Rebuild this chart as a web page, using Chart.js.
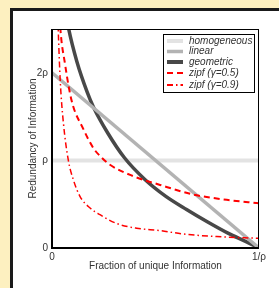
<!DOCTYPE html>
<html>
<head>
<meta charset="utf-8">
<script src="https://cdn.jsdelivr.net/npm/chart.js@4/dist/chart.umd.min.js"></script>
<style>
    html, body { margin: 0; padding: 0; background: #fdf0c0; }
    #panel {
        position: absolute; left: 10px; top: 8px; width: 269px; height: 280px;
        background: #fff; border-left: 3px solid #1a1a1a; border-top: 3px solid #1a1a1a;
        box-sizing: border-box;
    }
    #wrap { position: absolute; left: 0; top: 0; width: 279px; height: 288px; }
</style>
</head>
<body>
<div id="panel"></div>
<div id="wrap"><canvas id="redundancyChart" width="279" height="288"></canvas></div>
<script>
// Data (x = fraction of unique information, 1 = 1/rho; y in units of rho)
const xTicks = [0, 1];
const xTickLabels = ['0', '1/ρ'];
const yTicks = [0, 1, 2];
const yTickLabels = ['0', 'ρ', '2ρ'];

const homogeneousX = [0, 1];
const homogeneousY = [1, 1];

const linearX = [0, 1];
const linearY = [2, 0];

const geometricX = [0.072, 0.079, 0.12, 0.17, 0.20, 0.27, 0.35, 0.45, 0.55, 0.65, 0.75, 0.85, 0.94, 1.0];
const geometricY = [2.62, 2.52, 2.13, 1.78, 1.61, 1.31, 1.03, 0.78, 0.59, 0.44, 0.30, 0.17, 0.07, 0];

const zipf05X = [0.035, 0.039, 0.063, 0.095, 0.151, 0.2, 0.232, 0.28, 0.393, 0.522, 0.683, 0.844, 1.0];
const zipf05Y = [2.75, 2.55, 2.10, 1.68, 1.36, 1.14, 1.05, 0.95, 0.82, 0.72, 0.61, 0.55, 0.51];

const zipf09X = [0.025, 0.03, 0.04, 0.055, 0.079, 0.103, 0.135, 0.184, 0.232, 0.312, 0.409, 0.522, 0.634, 0.796, 1.0];
const zipf09Y = [2.9, 2.5, 1.9, 1.43, 1.0, 0.78, 0.59, 0.456, 0.38, 0.28, 0.226, 0.199, 0.16, 0.13, 0.11];

const seriesLabels = ['homogeneous', 'linear', 'geometric', 'zipf (γ=0.5)', 'zipf (γ=0.9)'];

function toPoints(xs, ys) {
    return xs.map((x, i) => ({ x: x, y: ys[i] }));
}

const fontFamily = '"Liberation Sans", Arial, Helvetica, sans-serif';
const textColor = '#333';

// frame around the plot area + boxed legend inside it
const framePlugin = {
    id: 'frame',
    afterDraw(chart) {
        const ctx = chart.ctx;
        const a = chart.chartArea;
        ctx.save();
        ctx.strokeStyle = '#000';
        ctx.lineWidth = 1;
        ctx.strokeRect(a.left + 0.5, a.top + 0.5, a.right - a.left - 1, a.bottom - a.top - 1);
        ctx.lineWidth = 2;
        ctx.beginPath();
        ctx.moveTo(a.left, a.top);
        ctx.lineTo(a.left, a.bottom);
        ctx.lineTo(a.right, a.bottom);
        ctx.stroke();

        // legend
        const box = { x: 163.5, y: 34.5, w: 91, h: 58 };
        ctx.fillStyle = '#fff';
        ctx.fillRect(box.x, box.y, box.w, box.h);
        ctx.lineWidth = 1;
        ctx.strokeStyle = '#000';
        ctx.strokeRect(box.x, box.y, box.w, box.h);
        const rows = [41, 51.5, 62, 73, 85];
        ctx.font = 'italic 10px ' + fontFamily;
        ctx.textBaseline = 'middle';
        chart.data.datasets.forEach((ds, i) => {
            const y = rows[i];
            ctx.strokeStyle = ds.borderColor;
            ctx.lineWidth = ds.legendWidth;
            ctx.setLineDash(ds.borderDash || []);
            ctx.beginPath();
            ctx.moveTo(167, y);
            ctx.lineTo(183, y);
            ctx.stroke();
            ctx.setLineDash([]);
            ctx.fillStyle = textColor;
            ctx.fillText(ds.label, 189, y);
        });
        ctx.restore();
    }
};

new Chart(document.getElementById('redundancyChart').getContext('2d'), {
    type: 'line',
    data: {
        datasets: [{
            label: seriesLabels[0],
            data: toPoints(homogeneousX, homogeneousY),
            borderColor: '#e3e3e3',
            borderWidth: 4,
            legendWidth: 4,
            order: 5
        }, {
            label: seriesLabels[1],
            data: toPoints(linearX, linearY),
            borderColor: '#b3b3b3',
            borderWidth: 3.5,
            legendWidth: 3.5,
            order: 3
        }, {
            label: seriesLabels[2],
            data: toPoints(geometricX, geometricY),
            borderColor: '#484848',
            borderWidth: 3.5,
            legendWidth: 4,
            cubicInterpolationMode: 'monotone',
            order: 4
        }, {
            label: seriesLabels[3],
            data: toPoints(zipf05X, zipf05Y),
            borderColor: '#ff0000',
            borderWidth: 2,
            legendWidth: 2,
            borderDash: [6, 4],
            cubicInterpolationMode: 'monotone',
            order: 2
        }, {
            label: seriesLabels[4],
            data: toPoints(zipf09X, zipf09Y),
            borderColor: '#ff0000',
            borderWidth: 1.5,
            legendWidth: 2,
            borderDash: [6, 3, 1.5, 3],
            cubicInterpolationMode: 'monotone',
            order: 1
        }]
    },
    options: {
        responsive: false,
        animation: false,
        layout: { padding: { left: 0, right: 20, top: 29, bottom: 0 } },
        elements: { point: { radius: 0 } },
        plugins: {
            legend: { display: false },
            tooltip: { enabled: false }
        },
        scales: {
            x: {
                type: 'linear',
                min: 0,
                max: 1,
                afterFit: s => { s.height = 40; },
                afterBuildTicks: s => { s.ticks = xTicks.map(v => ({ value: v })); },
                grid: { display: false, drawTicks: false },
                border: { display: false },
                ticks: {
                    padding: 3,
                    maxRotation: 0,
                    color: textColor,
                    font: { family: fontFamily, size: 10 },
                    callback: v => xTickLabels[xTicks.indexOf(v)]
                },
                title: {
                    display: true,
                    text: 'Fraction of unique Information',
                    color: textColor,
                    font: { family: fontFamily, size: 10 },
                    padding: { top: 0, bottom: 16 }
                }
            },
            y: {
                type: 'linear',
                min: 0,
                max: 2.5,
                afterFit: s => { s.width = 52; },
                afterBuildTicks: s => { s.ticks = yTicks.map(v => ({ value: v })); },
                grid: { display: false, drawTicks: false },
                border: { display: false },
                ticks: {
                    padding: 4,
                    color: textColor,
                    font: { family: fontFamily, size: 10 },
                    callback: v => yTickLabels[yTicks.indexOf(v)]
                },
                title: {
                    display: true,
                    text: 'Redundancy of Information',
                    color: textColor,
                    font: { family: fontFamily, size: 10 },
                    padding: { top: 27, bottom: 0 }
                }
            }
        }
    },
    plugins: [framePlugin]
});
</script>
</body>
</html>
